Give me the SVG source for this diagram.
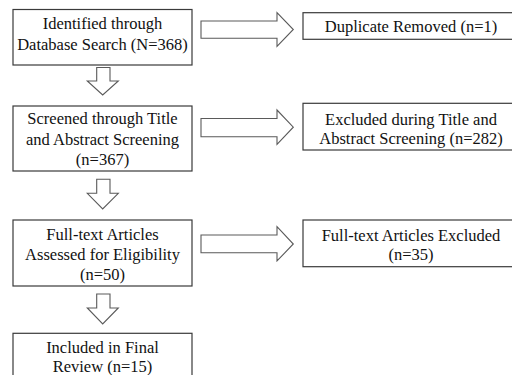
<svg xmlns="http://www.w3.org/2000/svg" width="512" height="375" viewBox="0 0 512 375">
<style>
.box{fill:#fff;stroke:#3a3a3a;stroke-width:1.2}
.arr{fill:#fff;stroke:#5a5a5a;stroke-width:1.1;stroke-linejoin:miter}
.t{font-family:'Liberation Serif',serif;font-size:16.5px;fill:#111;text-anchor:middle}
</style>
<rect width="512" height="375" fill="#fff"/>
<g id="connectors">
<path class="arr" d="M201,21 H277 V12.7 L293.3,29.5 L277,46.5 V38.3 H201 Z"/>
<path class="arr" d="M201,118.5 H277 V110 L293.3,127.2 L277,144.3 V136.7 H201 Z"/>
<path class="arr" d="M201,235 H277 V226.7 L293.3,244 L277,261 V252.7 H201 Z"/>
<path class="arr" d="M96.7,67.5 H110 V81 H118.3 L102.7,95 L87.3,81 H96.7 Z"/>
<path class="arr" d="M96.7,179.3 H110 V193.3 H118.3 L102.7,209 L87.3,193.3 H96.7 Z"/>
<path class="arr" d="M96.7,294 H110 V308 H118.3 L102.7,324 L87.3,308 H96.7 Z"/>
</g>
<g id="n1" class="t">
<rect class="box" x="13" y="9.5" width="179" height="55.5"/>
<text x="102.5" y="29.3">Identified through</text>
<text x="102.5" y="50">Database Search (N=368)</text>
</g>
<g id="n2" class="t">
<rect class="box" x="13" y="106" width="179" height="65"/>
<text x="102.5" y="124">Screened through Title</text>
<text x="102.5" y="145">and Abstract Screening</text>
<text x="102.5" y="165">(n=367)</text>
</g>
<g id="n3" class="t">
<rect class="box" x="13" y="220" width="179" height="66"/>
<text x="102.5" y="240">Full-text Articles</text>
<text x="102.5" y="260">Assessed for Eligibility</text>
<text x="102.5" y="280">(n=50)</text>
</g>
<g id="n4" class="t">
<rect class="box" x="13" y="333.3" width="179" height="60"/>
<text x="102.5" y="353.3">Included in Final</text>
<text x="102.5" y="372">Review (n=15)</text>
</g>
<g id="r1" class="t">
<rect class="box" x="303" y="12.7" width="216" height="26.6"/>
<text x="411" y="31.5">Duplicate Removed (n=1)</text>
</g>
<g id="r2" class="t">
<rect class="box" x="303" y="103.3" width="216" height="46.7"/>
<text x="411" y="125">Excluded during Title and</text>
<text x="411" y="143.5">Abstract Screening (n=282)</text>
</g>
<g id="r3" class="t">
<rect class="box" x="303" y="220" width="216" height="46.7"/>
<text x="411" y="241">Full-text Articles Excluded</text>
<text x="411" y="260">(n=35)</text>
</g>
</svg>
